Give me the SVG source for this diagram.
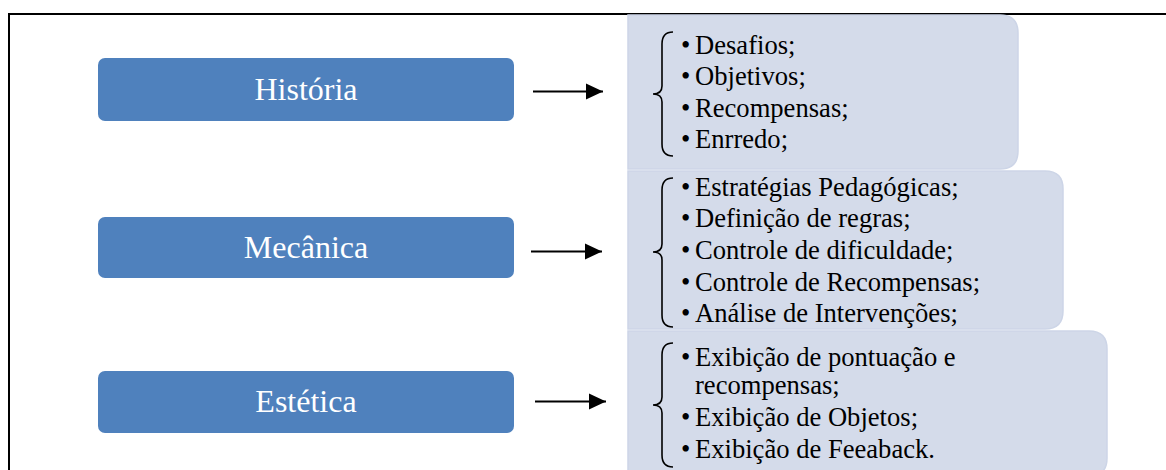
<svg xmlns="http://www.w3.org/2000/svg" width="1166" height="470" viewBox="0 0 1166 470">
<defs>
<style>
.box{fill:#4F81BD;}
.lbl{font-family:"Liberation Serif","Times New Roman",serif;font-size:32px;fill:#FFFFFF;text-anchor:middle;}
.panel{fill:#D4DBEA;stroke:#CDD5E7;stroke-width:1.5;}
.item{font-family:"Liberation Serif","Times New Roman",serif;font-size:26.6px;fill:#000000;}
.brace{fill:none;stroke:#000000;stroke-width:1.6;}
.conn{stroke:#000000;stroke-width:2.2;fill:none;}
.frame{stroke:#000000;stroke-width:2;fill:none;}
</style>
<marker id="ah" viewBox="0 0 10 10" refX="10" refY="5" markerWidth="17" markerHeight="17" markerUnits="userSpaceOnUse" orient="auto">
<path d="M0,0.3 L10,5 L0,9.7 Z" fill="#000000"/>
</marker>
</defs>
<rect x="0" y="0" width="1166" height="470" fill="#FFFFFF"/>
<path class="frame" d="M9,470 L9,14 L1166,14"/>

<g id="panel-historia">
<path class="panel" d="M628,15 L1000,15 Q1018,15 1018,33 L1018,151 Q1018,169 1000,169 L628,169 Z"/>
<path class="brace" d="M673,32 C665,32 662,36 662,44 L662,86 C662,91 659,94 653,94 C659,94 662,97 662,102 L662,144 C662,152 665,156 673,156"/>
<text class="item" x="681" y="54">•</text><text class="item" x="695" y="54">Desafios;</text>
<text class="item" x="681" y="85">•</text><text class="item" x="695" y="85">Objetivos;</text>
<text class="item" x="681" y="117">•</text><text class="item" x="695" y="117">Recompensas;</text>
<text class="item" x="681" y="148">•</text><text class="item" x="695" y="148">Enrredo;</text>
</g>

<g id="panel-mecanica">
<path class="panel" d="M628,171 L1045,171 Q1063,171 1063,189 L1063,311 Q1063,329 1045,329 L628,329 Z"/>
<path class="brace" d="M673,178 C665,178 662,182 662,190 L662,244 C662,249 659,252 653,252 C659,252 662,255 662,260 L662,315 C662,323 665,327 673,327"/>
<text class="item" x="681" y="196">•</text><text class="item" x="695" y="196">Estratégias Pedagógicas;</text>
<text class="item" x="681" y="227">•</text><text class="item" x="695" y="227">Definição de regras;</text>
<text class="item" x="681" y="259">•</text><text class="item" x="695" y="259">Controle de dificuldade;</text>
<text class="item" x="681" y="291">•</text><text class="item" x="695" y="291">Controle de Recompensas;</text>
<text class="item" x="681" y="322">•</text><text class="item" x="695" y="322">Análise de Intervenções;</text>
</g>

<g id="panel-estetica">
<path class="panel" d="M628,331 L1089,331 Q1107,331 1107,349 L1107,458 Q1107,476 1089,476 L628,476 Z"/>
<path class="brace" d="M673,343 C665,343 662,347 662,355 L662,397 C662,402 659,405 653,405 C659,405 662,408 662,413 L662,455 C662,463 665,467 673,467"/>
<text class="item" x="681" y="366">•</text><text class="item" x="695" y="366">Exibição de pontuação e</text>
<text class="item" x="695" y="394">recompensas;</text>
<text class="item" x="681" y="426">•</text><text class="item" x="695" y="426">Exibição de Objetos;</text>
<text class="item" x="681" y="458">•</text><text class="item" x="695" y="458">Exibição de Feeaback.</text>
</g>

<g id="node-historia">
<rect class="box" x="98" y="58" width="416" height="63" rx="7"/>
<text class="lbl" x="306" y="100">História</text>
</g>
<g id="node-mecanica">
<rect class="box" x="98" y="217" width="416" height="61" rx="7"/>
<text class="lbl" x="306" y="258">Mecânica</text>
</g>
<g id="node-estetica">
<rect class="box" x="98" y="371" width="416" height="62" rx="7"/>
<text class="lbl" x="306" y="412">Estética</text>
</g>

<g id="connectors">
<line class="conn" x1="533" y1="91.5" x2="603" y2="91.5" marker-end="url(#ah)"/>
<line class="conn" x1="531" y1="251.5" x2="602" y2="251.5" marker-end="url(#ah)"/>
<line class="conn" x1="535" y1="401.5" x2="606" y2="401.5" marker-end="url(#ah)"/>
</g>
</svg>
